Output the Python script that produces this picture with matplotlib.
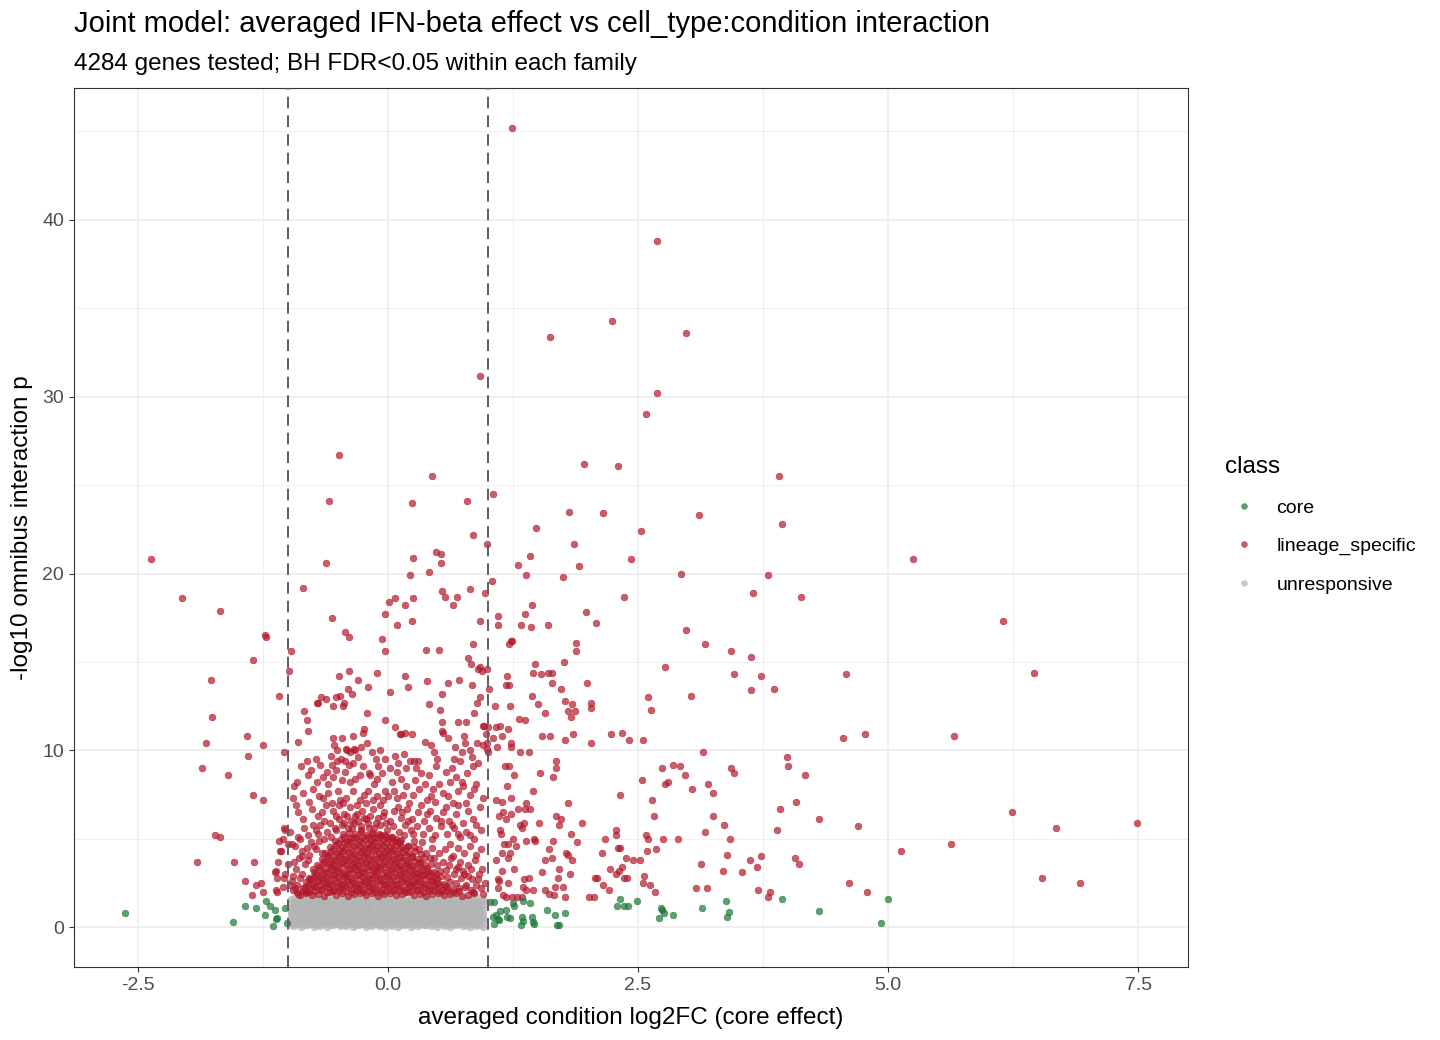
import numpy as np
import matplotlib
matplotlib.use("Agg")
import matplotlib.pyplot as plt
from matplotlib.lines import Line2D
from matplotlib.ticker import FixedLocator

plt.rcParams['font.family'] = ['Liberation Sans', 'DejaVu Sans']

title = "Joint model: averaged IFN-beta effect vs cell_type:condition interaction"
subtitle = "4284 genes tested; BH FDR<0.05 within each family"
xlabel = "averaged condition log2FC (core effect)"
ylabel = "-log10 omnibus interaction p"
legend_title = "class"
classes = ["core", "lineage_specific", "unresponsive"]
class_colors = {"core": "#1B7837", "lineage_specific": "#B2182B", "unresponsive": "#B3B3B3"}
threshold = 1.0
x_ticks = [-2.5, 0.0, 2.5, 5.0, 7.5]
y_ticks = [0, 10, 20, 30, 40]

# ---------------- lineage_specific (red): individually read points ----------------
lineage_pts = [
    (1.24,45.2),(2.69,38.8),(2.24,34.3),(1.62,33.4),(2.98,33.6),(0.92,31.2),(2.69,30.2),(2.58,29.0),
    (1.96,26.2),(2.30,26.1),(0.44,25.5),(3.91,25.5),(-0.49,26.7),(-0.59,24.1),(0.24,24.0),(0.79,24.1),
    (1.05,24.5),(1.48,22.6),(0.85,22.2),(0.99,21.7),(0.48,21.2),(0.53,21.1),(0.25,20.9),(0.53,20.6),
    (-0.62,20.6),(1.30,20.5),(1.42,21.0),(0.41,20.1),(0.22,19.9),(1.38,19.9),(1.04,19.6),(-0.85,19.2),
    (0.54,19.0),(0.82,19.1),(0.97,18.9),(0.57,18.7),(0.69,18.7),(0.25,18.6),(0.01,18.4),(0.07,18.6),
    (1.44,18.2),(0.17,18.2),(0.65,18.2),(-0.03,17.7),(-0.56,17.5),(1.37,17.7),(0.09,17.1),(0.24,17.3),
    (0.92,17.3),(1.10,17.6),(1.10,17.1),(1.33,17.1),(1.43,17.0),(1.60,17.1),(-0.43,16.7),(-0.39,16.4),
    (-1.23,16.5),(-1.22,16.4),(-0.06,16.3),(1.24,16.2),
    (1.81,23.5),(2.15,23.4),(3.11,23.3),(3.94,22.8),(2.53,22.4),(1.86,21.7),(2.43,20.8),(1.91,20.4),
    (1.75,19.8),(2.93,20.0),(3.80,19.9),(3.65,18.9),(2.36,18.7),(4.13,18.7),(1.98,17.8),(2.08,17.2),
    (2.98,16.8),(1.23,16.2),(1.21,16.0),(1.88,16.1),(1.88,15.6),(3.17,16.0),(3.43,15.6),(3.63,15.3),
    (1.47,14.9),(1.76,15.0),(0.92,14.7),(0.94,14.5),(0.99,14.6),(1.45,14.4),(1.53,14.3),(1.60,14.4),
    (1.64,14.4),(2.77,14.7),(3.46,14.3),(3.73,14.2),(1.19,14.2),(1.18,13.7),(1.21,13.7),(1.64,13.8),
    (1.99,13.8),(1.01,13.5),(1.73,13.5),(3.63,13.4),(3.86,13.5),(1.44,13.1),(3.03,13.1),(0.92,13.0),
    (2.60,13.0),(1.77,12.8),(1.84,12.6),(2.03,12.7),(1.50,12.6),(1.07,12.5),(1.22,12.5),(2.03,12.4),
    (1.80,12.2),(1.87,12.2),(1.57,12.1),(2.63,12.3),(1.83,11.9),(1.31,11.8),(1.37,11.7),(0.96,11.4),
    (1.00,11.3),(1.08,11.3),(1.12,11.4),(1.20,11.2),(0.98,10.9),(1.05,10.7),(1.14,10.8),(1.54,10.8),
    (1.62,10.8),(1.85,10.9),(2.23,10.9),(2.34,11.0),(2.41,10.6),(2.55,10.6),(1.77,10.6),(2.03,10.4),
    (1.23,10.4),(1.23,10.2),(0.95,10.3),(0.99,10.4),(1.09,10.2),(0.99,10.1),(1.32,9.9),(1.41,9.9),
    (3.15,9.9),(1.68,9.4),(1.68,9.0),(1.17,9.1),(1.21,9.1),(1.52,8.7),(1.65,8.5),(1.26,8.6),
    (2.74,9.0),(2.85,9.2),(2.92,9.1),(2.97,8.6),(3.43,9.0),(3.46,8.7),(3.99,9.6),(4.00,9.1),(4.17,8.6),
    (5.25,20.8),(6.15,17.3),(4.58,14.3),(6.46,14.4),(4.55,10.7),(4.77,10.9),(5.66,10.8),
    (4.08,7.1),(3.92,6.7),(3.36,5.8),(4.31,6.1),(3.89,5.5),(4.70,5.7),(3.42,5.0),(6.24,6.5),(6.68,5.6),
    (7.49,5.9),(5.13,4.3),(5.63,4.7),(3.39,4.1),(3.62,3.8),(3.73,4.0),(3.69,3.4),(4.07,3.9),(4.11,3.6),
    (3.35,3.2),(3.54,3.1),(3.70,2.1),(3.82,2.0),(3.80,1.7),(4.61,2.5),(4.79,2.0),(6.54,2.8),(6.92,2.5),
    (2.54,8.3),(2.77,8.1),(2.80,8.2),(3.04,7.8),(3.20,8.1),(3.25,7.6),(2.32,7.5),(2.64,7.2),(2.66,6.3),
    (3.25,6.3),(3.17,5.4),(2.28,5.5),(2.28,5.2),(2.58,5.2),(2.60,5.0),(2.75,5.0),(2.90,5.0),(2.17,5.0),
    (1.94,5.9),(1.83,5.3),(1.89,4.8),(2.30,4.5),(2.32,4.5),(2.59,4.3),(2.68,4.4),(2.14,4.2),(2.38,3.9),
    (2.45,3.8),(2.52,3.8),(2.22,3.3),(2.28,3.0),(2.31,3.2),(2.34,3.4),(2.36,2.8),(2.39,2.8),(2.56,2.9),
    (2.55,2.5),(2.62,2.4),(2.67,2.0),(2.07,2.8),(2.09,2.8),(2.15,2.4),(2.21,2.1),(2.01,1.7),(2.06,1.7),
    (3.08,2.2),(3.19,2.2),(3.13,3.6),
    (1.19,8.0),(1.45,7.7),(1.80,7.0),(1.08,7.2),(1.14,7.1),(1.23,7.3),(1.30,6.7),(1.37,6.7),(1.42,6.7),
    (1.38,7.0),(1.15,6.5),(1.23,6.4),(1.18,6.1),(1.11,6.3),(1.32,5.8),(1.36,5.9),(1.34,5.6),(1.51,5.9),
    (1.68,6.3),(1.73,6.1),(1.71,5.8),(1.12,5.5),(1.13,5.3),(1.16,4.7),(1.20,4.7),(1.28,4.6),(1.25,5.0),
    (1.38,4.9),(1.46,5.0),(1.47,4.9),(1.65,4.9),(1.61,4.4),(1.57,3.8),(1.64,3.9),(1.22,4.2),(1.20,3.9),
    (1.14,4.2),(1.08,3.8),(1.78,4.2),(1.80,4.1),(1.84,3.8),(1.71,3.3),(1.70,2.8),(1.54,3.1),(1.82,3.0),
    (1.14,3.2),(1.26,3.3),(1.10,2.7),(1.11,2.6),(1.41,2.8),(1.36,2.7),(1.20,2.5),(1.35,2.3),(1.38,2.1),
    (1.45,2.1),(1.10,2.2),(1.57,2.1),(1.61,1.9),(1.66,1.8),(1.67,2.3),(1.75,2.3),(1.77,1.7),(1.15,1.8),
    (1.18,1.7),(1.24,1.7),(1.29,1.7),(1.34,1.7),
    (-2.37,20.8),(-2.06,18.6),(-1.68,17.9),(-0.03,15.6),(-0.97,15.6),(-1.35,15.1),(-0.99,14.5),
    (-0.39,14.5),(-0.49,14.2),(-0.30,14.0),(-0.11,14.4),(-1.77,14.0),(-0.20,13.6),(0.02,13.3),
    (-0.40,13.5),(-0.48,13.1),(-0.36,13.2),(-0.52,13.0),(-0.67,13.0),(-0.62,12.9),(-0.71,12.7),
    (-0.55,12.5),(-0.45,12.5),(-0.44,12.7),(-1.09,13.1),(-0.84,12.2),(-0.81,11.7),(-1.76,11.9),
    (-0.21,12.1),(-0.03,11.7),(0.07,11.3),(0.13,10.9),(-0.80,11.1),(-0.55,10.7),(-0.46,10.7),
    (-0.35,10.8),(-0.24,11.2),(-0.25,11.0),(-1.41,10.8),(-1.82,10.4),(-1.25,10.3),(-1.40,9.7),
    (-0.90,10.5),(-1.04,9.9),(-1.86,9.0),(-1.60,8.6),(-0.54,10.3),(-0.51,10.0),(-0.42,10.1),
    (-0.41,10.0),(-0.34,10.1),(-0.27,10.2),(-0.21,10.4),(-0.81,9.4),(-0.72,9.5),
    (-1.35,7.5),(-1.25,7.2),(-1.73,5.2),(-1.68,5.1),(-1.91,3.7),(-1.54,3.7),(-1.34,3.7),(-1.43,2.6),
    (-1.32,2.4),(-1.27,2.5),(-1.36,1.8),(-1.25,2.0),(-1.09,4.9),(-1.05,5.0),(-1.07,4.3),(-1.10,3.7),
    (-1.13,3.1),(-1.11,2.8),(-1.03,5.5),(-1.04,2.8),(-0.98,2.4),(-1.12,2.1),(-0.96,4.7),(-0.94,3.7),
    (0.38,15.7),(0.51,15.7),(0.85,16.0),(0.80,15.2),(0.83,14.9),(0.90,14.6),(0.17,14.2),(0.20,13.6),
    (0.39,13.9),(0.60,13.8),(0.71,14.0),(0.84,13.7),(0.54,13.2),(0.89,12.7),(0.41,12.6),(0.52,12.3),
    (-0.70,12.7),(0.12,10.9),(0.17,11.0),(0.24,10.9),(0.54,11.6),(0.54,11.1),(0.55,11.0),(0.70,11.6),
    (0.78,11.6),(0.86,12.1),(0.95,11.4),(0.37,10.5),(0.43,10.3),(0.60,10.7),(0.67,10.2),(0.74,9.9),
    (0.76,10.8),(0.77,10.4),(0.82,10.0),(0.89,10.4),(1.00,9.9),(0.46,9.9),(0.49,9.5),(0.66,9.5),
    (0.72,9.4),(0.84,9.6),(0.85,9.1),(0.07,9.7),(0.16,9.8),(0.22,9.4),(0.26,9.4),(0.30,9.4),(0.09,8.8),
    (0.10,9.3),(0.28,9.0),(-0.08,10.0),(-0.16,9.9),(-0.12,9.5),(-0.03,9.5),(-0.10,9.1),(-0.19,8.7),
    (-0.57,9.7),(-0.56,9.2),(-0.51,9.4),(-0.47,9.5),(-0.43,9.4),(-0.38,9.9),(-0.39,9.2),(-0.35,9.3),
    (-0.33,10.0),(-0.30,9.6),(-0.61,8.8),(-0.65,8.5),(-0.55,8.5),(-0.46,8.3),(-0.38,8.2),(-0.28,8.6),
    (-0.18,8.6),(-0.11,8.4),(-0.91,8.2),(-0.94,8.0),(-0.80,8.6),(-0.75,7.8),(-0.71,8.2),(-0.50,7.7),
    (-0.48,7.2),(-0.35,7.7),(-0.28,7.2),(-0.20,7.7),(-0.15,7.2),(-0.11,7.4),(0.04,8.2),(-0.03,7.7),
    (-0.05,7.2),(0.09,7.3),(0.10,6.8),(0.27,8.3),(0.31,7.8),(0.37,8.1),(0.39,7.2),(0.45,7.8),(0.51,8.1),
    (0.55,7.6),(0.62,8.2),(0.65,7.0),(0.70,7.7),(0.74,8.2),(0.75,8.0),(0.82,7.5),(0.88,8.1),(0.92,6.8),
    (0.95,7.3),(0.85,6.1),(-0.95,7.3),(-0.92,6.9),(-1.04,5.6),(-1.00,4.7),(-1.08,4.3),(-1.12,3.2),
    (-1.11,2.0),(-1.05,2.3),(-0.85,6.1),(-0.84,5.6),(-0.75,5.8),(-0.68,5.8),(-0.66,6.5),(-0.76,6.7),
    (-0.90,5.1),(-0.98,5.4),(-0.93,4.6),(-0.86,4.0),(-0.81,4.5),(-1.00,3.6),(-1.03,3.0),(-0.95,2.9),
    (-0.91,2.4),(-0.86,3.0),(-0.83,2.3),
    (-0.62,6.9),(-0.55,6.6),(-0.49,6.9),(-0.44,6.4),(-0.38,6.8),(-0.33,6.3),(-0.26,6.6),(-0.22,6.1),
    (-0.15,6.7),(-0.10,6.2),(-0.04,6.5),(0.02,6.0),(0.06,6.6),(0.13,6.2),(0.19,6.7),(0.24,6.1),
    (0.30,6.5),(0.36,6.0),(0.42,6.6),(0.48,6.2),(0.55,6.5),(0.61,6.0),(0.68,6.4),(0.75,5.9),(0.80,6.6),
    (-0.58,5.9),(-0.52,5.5),(-0.46,5.8),(-0.40,5.6),(-0.34,5.9),(-0.27,5.7),(-0.20,5.9),(-0.14,5.6),
    (-0.08,5.8),(-0.01,5.5),(0.05,5.7),(0.11,5.4),(0.17,5.8),(0.23,5.5),(0.29,5.7),(0.35,5.3),
    (0.41,5.6),(0.47,5.2),(0.53,5.7),(0.59,5.3),(0.66,5.6),(0.72,5.1),(0.78,5.4),(0.86,5.0),(0.93,5.5),
    (-0.70,5.3),(-0.64,5.0),(-0.77,4.8),(-0.72,4.4),(0.62,4.7),(0.70,4.5),(0.76,4.2),(0.82,4.6),
    (0.88,4.1),(0.93,4.4),(0.65,4.0),(0.72,3.7),(0.80,3.5),(0.87,3.8),(0.94,3.3),(0.68,3.3),(0.76,3.0),
    (0.84,2.7),(0.91,3.0),(0.97,2.5),(0.85,2.0),(0.93,2.2),(0.78,2.4),(-0.80,3.8),(-0.75,3.3),
    (-0.82,2.0),(-0.78,2.7),(-0.90,1.9),(-0.95,2.1),(-0.88,2.8),
    (-0.69,7.4),(-0.60,7.6),(-0.56,7.0),(-0.42,7.3),(-0.31,6.9),(-0.24,7.5),(-0.08,6.9),(0.00,7.4),
    (0.15,7.5),(0.21,7.0),(0.33,6.9),(0.47,7.1),(0.58,6.8),(0.78,7.0),(-0.85,7.6),(-0.79,7.1),
    (-0.90,6.5),(-0.70,6.3),(0.70,6.9),(0.88,5.8),(-0.36,5.6),(-0.30,6.0),(-0.18,6.3),(-0.12,5.9),
    (-0.86,4.3),(-0.83,3.6),(-0.79,4.1),(-0.74,4.6),(-0.69,4.9),(-0.66,4.2),(-0.61,5.4),(-0.57,5.1),
    (-0.53,5.6),(-0.49,6.1),(-0.44,5.9),(-0.41,6.3),(-0.37,6.0),(-0.31,6.4),(-0.27,5.5),(-0.24,6.2),
    (-0.19,5.6),(-0.16,5.3),(-0.07,5.2),(-0.02,5.9),(0.03,5.1),(0.08,5.0),(0.12,4.8),(0.16,5.2),
    (0.20,4.6),(0.26,4.9),(0.31,4.4),(0.34,4.8),(0.38,4.2),(0.44,4.5),(0.46,3.9),(0.51,4.2),
    (0.55,3.7),(0.57,4.4),(0.61,3.5),(0.63,3.9),(0.66,3.0),(0.70,3.4),(0.73,2.8),(0.75,3.2),
    (0.80,2.9),(0.83,3.3),(0.88,2.4),(0.90,2.7),(0.95,1.9),(-0.92,3.3),(-0.89,3.9),(-0.96,2.6),
    (-0.93,2.2),(0.53,6.0),(0.64,5.8),(0.39,6.4),(0.14,6.5),(-0.05,6.3),(-0.52,6.3),(-0.64,6.0),
    (-0.72,5.5),(-0.80,5.2),(-0.88,5.0),(0.70,5.3),(0.82,5.2),(0.44,5.0),(0.25,5.3),(0.20,6.0),
    (-0.77,8.9),(-0.68,9.2),(-0.60,8.1),(-0.52,8.9),(-0.43,8.8),(-0.33,8.4),(-0.25,9.1),(-0.14,8.1),
    (-0.06,8.7),(0.02,9.0),(0.13,8.4),(0.18,9.0),(0.33,8.7),(0.41,8.6),(0.48,9.1),(0.58,8.8),
    (0.64,9.0),(0.79,8.7),(0.90,9.3),(-0.87,9.1),(-0.65,7.3),(-0.45,7.0),(-0.22,7.0),(0.06,7.7),
    (0.18,8.0),(0.25,7.5),(0.43,7.4),(0.60,7.4),(0.68,8.5),(0.86,7.8),
]

# ---------------- lineage_specific dense core, row by row (estimated) ----------------
lineage_dense_rows = [
    ([-0.88,-0.82,-0.76,-0.70,-0.64,-0.58,-0.52,-0.46,-0.40,-0.34,-0.28,-0.22,-0.16,-0.10,-0.04,0.02,0.08,0.14,0.20,0.26,0.32,0.38,0.44,0.50,0.56,0.62,0.68,0.74,0.80,0.86],
     [1.85,1.95,1.80,1.90,1.78,1.98,1.84,1.92,1.79,1.88,1.96,1.82,1.91,1.77,1.87,1.94,1.81,1.89,1.97,1.83,1.90,1.78,1.86,1.95,1.80,1.88,1.93,1.79,1.85,1.91]),
    ([-0.91,-0.85,-0.79,-0.73,-0.67,-0.61,-0.55,-0.49,-0.43,-0.37,-0.31,-0.25,-0.19,-0.13,-0.07,-0.01,0.05,0.11,0.17,0.23,0.29,0.35,0.41,0.47,0.53,0.59,0.65,0.71],
     [2.02,2.06,1.99,2.04,2.08,2.00,2.05,2.03,2.07,1.98,2.04,2.01,2.06,2.02,2.00,2.07,2.03,2.05,1.99,2.04,2.08,2.01,2.03,2.06,2.00,2.05,2.02,2.04]),
    ([-0.85,-0.79,-0.73,-0.67,-0.61,-0.55,-0.49,-0.43,-0.37,-0.31,-0.25,-0.19,-0.13,-0.07,-0.01,0.05,0.11,0.17,0.23,0.29,0.35,0.41,0.47,0.53,0.59,0.65,0.71,0.77,0.83],
     [2.20,2.12,2.28,2.15,2.25,2.10,2.22,2.30,2.14,2.24,2.11,2.27,2.18,2.08,2.26,2.16,2.23,2.09,2.29,2.13,2.21,2.17,2.27,2.10,2.24,2.15,2.19,2.28,2.12]),
    ([-0.80,-0.74,-0.68,-0.62,-0.56,-0.50,-0.44,-0.38,-0.32,-0.26,-0.20,-0.14,-0.08,-0.02,0.04,0.10,0.16,0.22,0.28,0.34,0.40,0.46,0.52,0.58],
     [2.38,2.34,2.40,2.36,2.39,2.33,2.41,2.37,2.35,2.40,2.38,2.34,2.36,2.41,2.37,2.39,2.33,2.38,2.36,2.40,2.35,2.39,2.37,2.34]),
    ([-0.82,-0.76,-0.70,-0.64,-0.58,-0.52,-0.46,-0.40,-0.34,-0.28,-0.22,-0.16,-0.10,-0.04,0.02,0.08,0.14,0.20,0.26,0.32,0.38,0.44,0.50,0.56,0.62,0.68],
     [2.55,2.45,2.60,2.50,2.42,2.58,2.47,2.62,2.52,2.44,2.57,2.49,2.61,2.46,2.54,2.43,2.59,2.51,2.48,2.56,2.44,2.60,2.50,2.46,2.58,2.52]),
    ([-0.77,-0.71,-0.65,-0.59,-0.53,-0.47,-0.41,-0.35,-0.29,-0.23,-0.17,-0.11,-0.05,0.01,0.07,0.13,0.19,0.25,0.31,0.37,0.43,0.49],
     [2.70,2.66,2.73,2.68,2.71,2.65,2.74,2.69,2.72,2.67,2.70,2.75,2.66,2.71,2.68,2.73,2.69,2.65,2.72,2.70,2.67,2.74]),
    ([-0.79,-0.73,-0.67,-0.61,-0.55,-0.49,-0.43,-0.37,-0.31,-0.25,-0.19,-0.13,-0.07,-0.01,0.05,0.11,0.17,0.23,0.29,0.35,0.41,0.47,0.53,0.59],
     [2.80,2.92,2.85,2.76,2.95,2.83,2.88,2.78,2.97,2.86,2.81,2.93,2.79,2.90,2.84,2.96,2.77,2.89,2.82,2.94,2.87,2.80,2.91,2.85]),
    ([-0.72,-0.66,-0.60,-0.54,-0.48,-0.42,-0.36,-0.30,-0.24,-0.18,-0.12,-0.06,0.00,0.06,0.12,0.18,0.24,0.30,0.36,0.42,0.48],
     [3.03,3.00,3.06,2.99,3.05,3.02,3.07,3.01,3.04,2.98,3.06,3.03,3.00,3.05,3.02,3.07,2.99,3.04,3.01,3.06,3.03]),
    ([-0.74,-0.68,-0.62,-0.56,-0.50,-0.44,-0.38,-0.32,-0.26,-0.20,-0.14,-0.08,-0.02,0.04,0.10,0.16,0.22,0.28,0.34,0.40,0.46,0.52,0.58],
     [3.15,3.25,3.10,3.28,3.18,3.08,3.22,3.30,3.13,3.24,3.16,3.27,3.11,3.21,3.29,3.14,3.23,3.09,3.26,3.17,3.12,3.20,3.25]),
    ([-0.69,-0.63,-0.57,-0.51,-0.45,-0.39,-0.33,-0.27,-0.21,-0.15,-0.09,-0.03,0.03,0.09,0.15,0.21,0.27,0.33,0.39],
     [3.38,3.35,3.41,3.36,3.40,3.34,3.42,3.37,3.39,3.35,3.41,3.38,3.36,3.40,3.34,3.39,3.37,3.42,3.36]),
    ([-0.71,-0.65,-0.59,-0.53,-0.47,-0.41,-0.35,-0.29,-0.23,-0.17,-0.11,-0.05,0.01,0.07,0.13,0.19,0.25,0.31,0.37,0.43,0.49],
     [3.50,3.62,3.55,3.46,3.65,3.52,3.58,3.48,3.63,3.54,3.47,3.60,3.51,3.64,3.49,3.57,3.45,3.61,3.53,3.59,3.50]),
    ([-0.64,-0.58,-0.52,-0.46,-0.40,-0.34,-0.28,-0.22,-0.16,-0.10,-0.04,0.02,0.08,0.14,0.20,0.26,0.32],
     [3.72,3.69,3.75,3.70,3.74,3.68,3.76,3.71,3.73,3.69,3.75,3.72,3.70,3.74,3.68,3.73,3.71]),
    ([-0.66,-0.60,-0.54,-0.48,-0.42,-0.36,-0.30,-0.24,-0.18,-0.12,-0.06,0.00,0.06,0.12,0.18,0.24,0.30,0.36,0.42],
     [3.85,3.95,3.82,3.98,3.88,3.92,3.80,3.96,3.87,3.83,3.99,3.90,3.84,3.94,3.81,3.97,3.86,3.91,3.89]),
    ([-0.60,-0.54,-0.48,-0.42,-0.36,-0.30,-0.24,-0.18,-0.12,-0.06,0.00,0.06,0.12,0.18,0.24],
     [4.07,4.04,4.10,4.05,4.09,4.03,4.11,4.06,4.08,4.04,4.10,4.07,4.05,4.09,4.03]),
    ([-0.63,-0.57,-0.51,-0.45,-0.39,-0.33,-0.27,-0.21,-0.15,-0.09,-0.03,0.03,0.09,0.15,0.21,0.27,0.33],
     [4.20,4.30,4.18,4.33,4.24,4.15,4.28,4.21,4.35,4.19,4.26,4.31,4.17,4.27,4.22,4.32,4.16]),
    ([-0.55,-0.49,-0.43,-0.37,-0.31,-0.25,-0.19,-0.13,-0.07,-0.01,0.05,0.11,0.17],
     [4.42,4.39,4.45,4.40,4.44,4.38,4.46,4.41,4.43,4.39,4.45,4.42,4.40]),
    ([-0.58,-0.52,-0.46,-0.40,-0.34,-0.28,-0.22,-0.16,-0.10,-0.04,0.02,0.08,0.14,0.20,0.26],
     [4.55,4.65,4.52,4.68,4.58,4.62,4.50,4.66,4.57,4.61,4.53,4.67,4.56,4.60,4.54]),
    ([-0.50,-0.44,-0.38,-0.32,-0.26,-0.20,-0.14,-0.08,-0.02,0.04,0.10],
     [4.77,4.74,4.80,4.75,4.79,4.73,4.81,4.76,4.78,4.74,4.80]),
    ([-0.53,-0.47,-0.41,-0.35,-0.29,-0.23,-0.17,-0.11,-0.05,0.01,0.07,0.13],
     [4.90,5.00,4.88,5.02,4.94,4.97,4.86,5.04,4.92,4.98,4.89,4.95]),
    ([-0.44,-0.38,-0.32,-0.26,-0.20,-0.14,-0.08,-0.02,0.04],
     [5.10,5.07,5.13,5.08,5.12,5.06,5.14,5.09,5.11]),
    ([-0.45,-0.39,-0.33,-0.27,-0.21,-0.15,-0.09,-0.03],
     [5.25,5.35,5.28,5.38,5.22,5.33,5.27,5.20]),
]

# ---------------- unresponsive (grey) band, estimated ----------------
grey_xa = [-0.94,-0.87,-0.81,-0.74,-0.68,-0.61,-0.55,-0.48,-0.42,-0.35,-0.29,-0.22,-0.16,-0.09,-0.03,
           0.04,0.10,0.17,0.23,0.30,0.36,0.43,0.49,0.56,0.62,0.69,0.75,0.82,0.88,0.95]
grey_xb = [-0.97,-0.90,-0.84,-0.77,-0.71,-0.64,-0.58,-0.51,-0.45,-0.38,-0.32,-0.25,-0.19,-0.12,-0.06,
           0.01,0.07,0.13,0.20,0.26,0.33,0.39,0.46,0.52,0.59,0.65,0.72,0.78,0.85,0.91]
grey_levels = [0.06,0.15,0.25,0.35,0.45,0.55,0.65,0.75,0.85,0.95,1.05,1.15,1.25,1.35,1.45,1.55,1.64]
grey_jit = [0.03,-0.02,0.05,-0.04,0.01,-0.05,0.04,-0.01,0.02,-0.03,0.05,-0.04,0.00,0.03,-0.05,
            0.02,-0.02,0.04,-0.03,0.01,0.05,-0.01,-0.04,0.03,-0.02,0.04,0.00,-0.05,0.02,-0.03]

# ---------------- core (green) ----------------
core_pts = [
    (-2.63,0.83),(-1.55,0.30),(-1.43,1.20),(-1.32,1.10),(-1.22,1.50),(-1.23,0.70),(-1.18,1.20),
    (-1.13,1.00),(-1.12,0.45),(-1.11,0.50),(-1.15,0.06),(-1.03,1.10),(-1.01,0.23),
    (1.02,1.40),(1.06,1.40),(1.12,0.90),(1.18,1.00),(1.25,1.35),(1.26,1.20),(1.35,1.50),(1.42,1.35),
    (1.05,0.60),(1.08,0.70),(1.10,0.45),(1.11,0.40),(1.06,0.17),(1.19,0.55),(1.22,0.50),(1.34,0.60),
    (1.35,0.35),(1.33,0.10),(1.44,0.55),(1.45,0.30),(1.46,0.20),(1.59,1.00),(1.67,0.70),(1.69,0.15),
    (1.71,0.15),(1.77,0.80),
    (2.32,1.60),(2.29,1.20),(2.36,1.20),(2.40,1.20),(2.49,1.50),(2.73,1.10),(2.74,1.00),(2.76,0.80),
    (2.71,0.50),(2.85,0.70),(3.14,1.10),(3.38,1.50),(3.41,0.85),(3.39,0.60),(3.94,1.60),(4.31,0.90),
    (4.93,0.23),(5.00,1.60),
]

# ---------------- assemble ----------------
red_x = [p[0] for p in lineage_pts]
red_y = [p[1] for p in lineage_pts]
for rx, ry in lineage_dense_rows:
    red_x += rx
    red_y += ry

grey_x, grey_y = [], []
for i, lev in enumerate(grey_levels):
    xs = grey_xa if i % 2 == 0 else grey_xb
    jit = np.roll(grey_jit, i * 3)
    grey_x += list(xs)
    grey_y += [lev + j for j in jit[:len(xs)]]

green_x = [p[0] for p in core_pts]
green_y = [p[1] for p in core_pts]

all_x = np.concatenate([red_x, grey_x, green_x])
all_y = np.concatenate([red_y, grey_y, green_y])
xr = all_x.max() - all_x.min()
yr = all_y.max() - all_y.min()

# ---------------- figure ----------------
W, H = 1440, 1040
fig = plt.figure(figsize=(W / 100, H / 100), dpi=100)
L, R, T, B = 74, 1188, 88, 967
ax = fig.add_axes([L / W, 1 - B / H, (R - L) / W, (B - T) / H])

pt_kw = dict(s=23, alpha=0.7, linewidths=0.5, zorder=3)
ax.scatter(grey_x, grey_y, color=class_colors["unresponsive"], edgecolors=class_colors["unresponsive"], **pt_kw)
ax.scatter(red_x, red_y, color=class_colors["lineage_specific"], edgecolors=class_colors["lineage_specific"], **pt_kw)
ax.scatter(green_x, green_y, color=class_colors["core"], edgecolors=class_colors["core"], **pt_kw)

for xv in (-threshold, threshold):
    ax.axvline(xv, color="#5E5E5E", lw=1.4, linestyle=(0, (6.0, 3.6)), zorder=4)

ax.set_xlim(all_x.min() - 0.05 * xr, all_x.max() + 0.05 * xr)
ax.set_ylim(all_y.min() - 0.05 * yr, all_y.max() + 0.05 * yr)

ax.xaxis.set_major_locator(FixedLocator(x_ticks))
ax.yaxis.set_major_locator(FixedLocator(y_ticks))
ax.xaxis.set_minor_locator(FixedLocator([-1.25, 1.25, 3.75, 6.25]))
ax.yaxis.set_minor_locator(FixedLocator([5, 15, 25, 35, 45]))
ax.set_xticklabels([f"{v:.1f}" for v in x_ticks])
ax.set_yticklabels([f"{v:d}" for v in y_ticks])

ax.grid(which="major", color="#EBEBEB", lw=1.1, zorder=0)
ax.grid(which="minor", color="#EBEBEB", lw=0.55, zorder=0)
ax.set_axisbelow(True)
for sp in ax.spines.values():
    sp.set_color("#333333")
    sp.set_linewidth(0.8)

ax.tick_params(which="major", length=3.6, width=0.8, color="#333333", labelsize=14,
               labelcolor="#4D4D4D", pad=3.5)
ax.tick_params(which="minor", length=0)

ax.set_xlabel(xlabel, fontsize=17.5, color="black")
ax.set_ylabel(ylabel, fontsize=17.5, color="black")
ax.xaxis.set_label_coords(0.5, -(1007 - B) / (B - T))
ax.yaxis.set_label_coords(-(L - 33) / (R - L), 0.5)

fig.text(L / W, 1 - 32 / H, title, fontsize=21, ha="left", va="baseline")
fig.text(L / W, 1 - 70 / H, subtitle, fontsize=17.5, ha="left", va="baseline")

handles = [Line2D([], [], marker="o", ls="", markersize=4.2, alpha=0.7,
                  color=class_colors[c], markeredgewidth=0.4) for c in classes]
leg = fig.legend(handles, classes, title=legend_title, loc="upper left",
                 bbox_to_anchor=(1225 / W, 1 - 456 / H), frameon=False, fontsize=14,
                 title_fontsize=17.5, alignment="left", borderpad=0, borderaxespad=0,
                 handlelength=2.0, handletextpad=0.65, labelspacing=1.08)

fig.savefig("out.png", dpi=100)
